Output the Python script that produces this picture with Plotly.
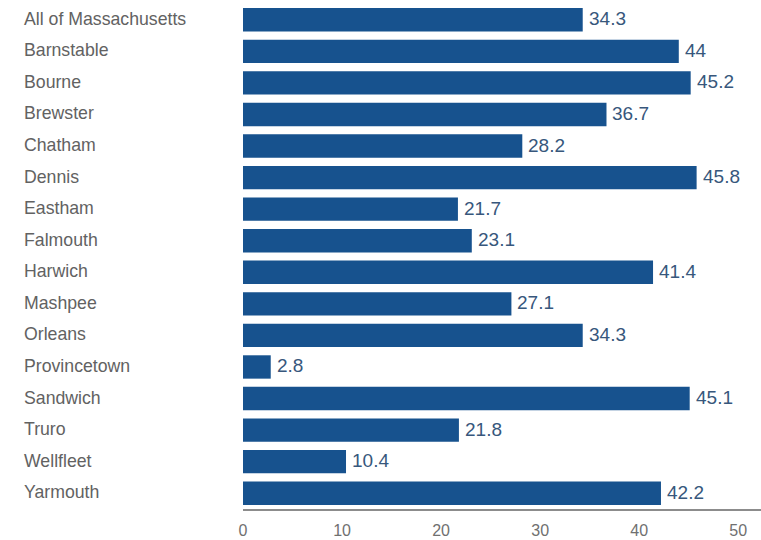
import plotly.graph_objects as go

towns = [
    "All of Massachusetts", "Barnstable", "Bourne", "Brewster", "Chatham",
    "Dennis", "Eastham", "Falmouth", "Harwich", "Mashpee", "Orleans",
    "Provincetown", "Sandwich", "Truro", "Wellfleet", "Yarmouth",
]
values = [34.3, 44, 45.2, 36.7, 28.2, 45.8, 21.7, 23.1, 41.4, 27.1, 34.3,
          2.8, 45.1, 21.8, 10.4, 42.2]
x_ticks = [0, 10, 20, 30, 40, 50]

BAR = "#17528e"
FONT = "Liberation Sans, Arial, sans-serif"
W, H = 761, 540
L_MARGIN = 243

fig = go.Figure(
    go.Bar(
        x=values,
        y=towns,
        orientation="h",
        marker=dict(color=BAR, line=dict(width=0)),
        width=0.74,
        hoverinfo="skip",
    )
)

# value labels just past each bar end
for t, v in zip(towns, values):
    fig.add_annotation(
        x=v, xref="x", y=t, yref="y", xshift=4, yshift=1,
        text=f"{v:g}", showarrow=False, xanchor="left", yanchor="middle",
        font=dict(family=FONT, size=19, color="#37577c"),
    )

# left-aligned category labels in the left margin
label_x = (22 - L_MARGIN) / (W - L_MARGIN)
for t in towns:
    fig.add_annotation(
        x=label_x, xref="paper", y=t, yref="y", yshift=1,
        text=t, showarrow=False, xanchor="left", yanchor="middle",
        font=dict(family=FONT, size=17.7, color="#626262"),
    )

fig.update_layout(
    width=W, height=H,
    margin=dict(l=L_MARGIN, r=0, t=4, b=31),
    paper_bgcolor="white", plot_bgcolor="white",
    showlegend=False,
    font=dict(family=FONT),
)
fig.update_yaxes(
    categoryorder="array", categoryarray=towns, autorange="reversed",
    showticklabels=False, showgrid=False, zeroline=False, showline=False,
    ticks="",
)
fig.update_xaxes(
    range=[0, 52.3], tickvals=x_ticks, showgrid=False, zeroline=False,
    showline=True, linecolor="#8c8c8c", linewidth=2,
    tickfont=dict(family=FONT, size=16, color="#707070"),
    ticks="", ticklabelstandoff=6,
)

fig.write_html("out.html")
